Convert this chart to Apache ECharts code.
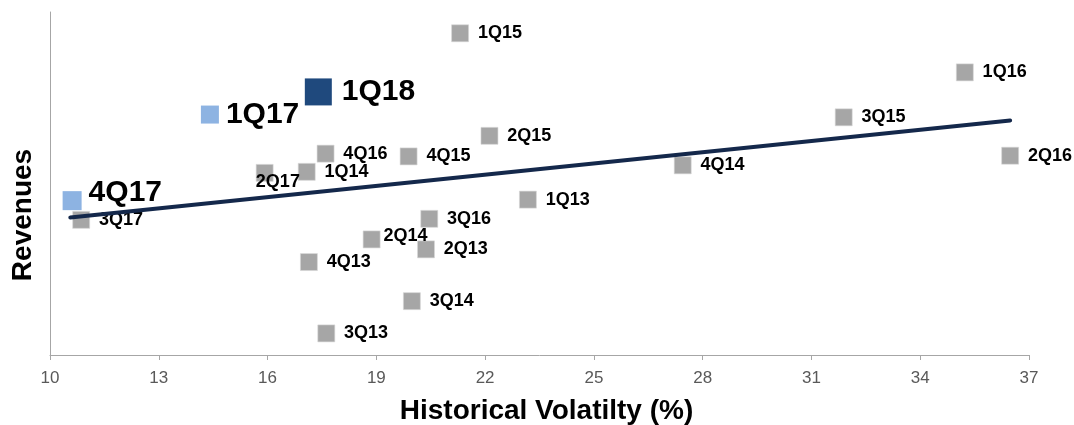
<!DOCTYPE html>
<html>
<head>
<meta charset="utf-8">
<script src="https://cdn.jsdelivr.net/npm/echarts@6/dist/echarts.min.js"></script>
<style>
  html, body { margin: 0; padding: 0; background: #fff; }
  #chart { width: 1074px; height: 425px; }
</style>
</head>
<body>
<div id="chart"></div>
<script>
// Quarterly revenues (index) against historical volatility (%)
const quarters   = ['1Q13','2Q13','3Q13','4Q13','1Q14','2Q14','3Q14','4Q14','1Q15','2Q15','3Q15','4Q15','1Q16','2Q16','3Q16','4Q16','2Q17','3Q17'];
const volatility = [23.18, 20.37, 17.62, 17.14, 17.08, 18.87, 19.98, 27.45, 21.31, 22.12, 31.89, 19.89, 35.23, 36.48, 20.46, 17.60, 15.92, 10.86];
const revenues   = [45.3, 30.8, 6.3, 27.1, 53.4, 33.7, 15.7, 55.3, 93.8, 63.9, 69.3, 57.9, 82.4, 58.1, 39.7, 58.7, 53.1, 39.4];

// Recent quarters called out separately
const recentQuarters    = ['1Q17', '4Q17'];
const recentVolatility  = [14.41, 10.61];
const recentRevenues    = [70.1, 45.0];

const latestQuarter    = '1Q18';
const latestVolatility = 17.40;
const latestRevenue    = 76.7;

// Linear trend, endpoints
const trendVolatility = [10.56, 36.48];
const trendRevenues   = [40.1, 68.4];

const xTicks = [10, 13, 16, 19, 22, 25, 28, 31, 34, 37];

const FONT = '"Liberation Sans", Arial, sans-serif';

// Per-label placement adjustments
const labelTweaks = {
  '2Q17': { position: [0, 18], align: 'left', verticalAlign: 'middle' },
  '2Q14': { offset: [-6, -3] }
};

const grayPoints = quarters.map((q, i) => {
  const item = { value: [volatility[i], revenues[i]], name: q };
  if (labelTweaks[q]) item.label = labelTweaks[q];
  return item;
});

const recentPoints = recentQuarters.map((q, i) => {
  const item = { value: [recentVolatility[i], recentRevenues[i]], name: q };
  if (q === '4Q17') { item.symbolSize = 19; item.label = { offset: [0, -8] }; }
  return item;
});

const chart = echarts.init(document.getElementById('chart'));
chart.setOption({
  animation: false,
  backgroundColor: '#ffffff',
  grid: { left: 50, right: 45, top: 12, bottom: 70, containLabel: false, outerBoundsMode: 'none' },
  graphic: [{
    type: 'text',
    x: 23,
    y: 215,
    rotation: Math.PI / 2,
    style: {
      text: 'Revenues',
      fontFamily: FONT,
      fontWeight: 'bold',
      fontSize: 28,
      fill: '#000',
      align: 'center',
      verticalAlign: 'middle'
    }
  }],
  xAxis: {
    type: 'value',
    min: xTicks[0],
    max: xTicks[xTicks.length - 1],
    interval: 3,
    name: 'Historical Volatilty (%)',
    nameLocation: 'middle',
    nameGap: 42,
    nameTextStyle: { fontFamily: FONT, fontWeight: 'bold', fontSize: 28, color: '#000', padding: [0, 0, 0, 14] },
    axisLine: { show: true, lineStyle: { color: '#a6a6a6', width: 1 } },
    axisTick: { show: true, length: 5, lineStyle: { color: '#a6a6a6' } },
    axisLabel: { fontFamily: FONT, fontSize: 17, color: '#595959', margin: 15 },
    splitLine: { show: false }
  },
  yAxis: {
    type: 'value',
    min: 0,
    max: 100,
    axisLine: { show: true, lineStyle: { color: '#a6a6a6', width: 1 } },
    axisTick: { show: false },
    axisLabel: { show: false },
    splitLine: { show: false }
  },
  series: [
    {
      type: 'scatter',
      name: 'Quarters',
      symbol: 'rect',
      symbolSize: 17,
      itemStyle: { color: '#a6a6a6', borderColor: '#d9d9d9', borderWidth: 0.6, opacity: 1 },
      label: {
        show: true,
        position: 'right',
        distance: 9,
        formatter: p => p.name,
        fontFamily: FONT,
        fontWeight: 'bold',
        fontSize: 18,
        color: '#000',
        opacity: 1
      },
      data: grayPoints,
      z: 2
    },
    {
      type: 'scatter',
      name: 'Recent',
      symbol: 'rect',
      symbolSize: 18,
      itemStyle: { color: '#8db3e2', opacity: 1 },
      label: {
        show: true,
        position: 'right',
        distance: 7,
        formatter: p => p.name,
        fontFamily: FONT,
        fontWeight: 'bold',
        fontSize: 30,
        color: '#000',
        opacity: 1
      },
      data: recentPoints,
      z: 3
    },
    {
      type: 'scatter',
      name: 'Latest',
      symbol: 'rect',
      symbolSize: 27,
      itemStyle: { color: '#1f497d', opacity: 1 },
      label: {
        show: true,
        position: 'right',
        distance: 10,
        formatter: p => p.name,
        fontFamily: FONT,
        fontWeight: 'bold',
        fontSize: 30,
        color: '#000',
        opacity: 1
      },
      data: [{ value: [latestVolatility, latestRevenue], name: latestQuarter }],
      z: 3
    },
    {
      type: 'line',
      name: 'Trend',
      showSymbol: false,
      symbol: 'none',
      lineStyle: { color: '#14284b', width: 4, cap: 'round' },
      data: trendVolatility.map((v, i) => [v, trendRevenues[i]]),
      z: 4,
      silent: true
    }
  ]
});
</script>
</body>
</html>
